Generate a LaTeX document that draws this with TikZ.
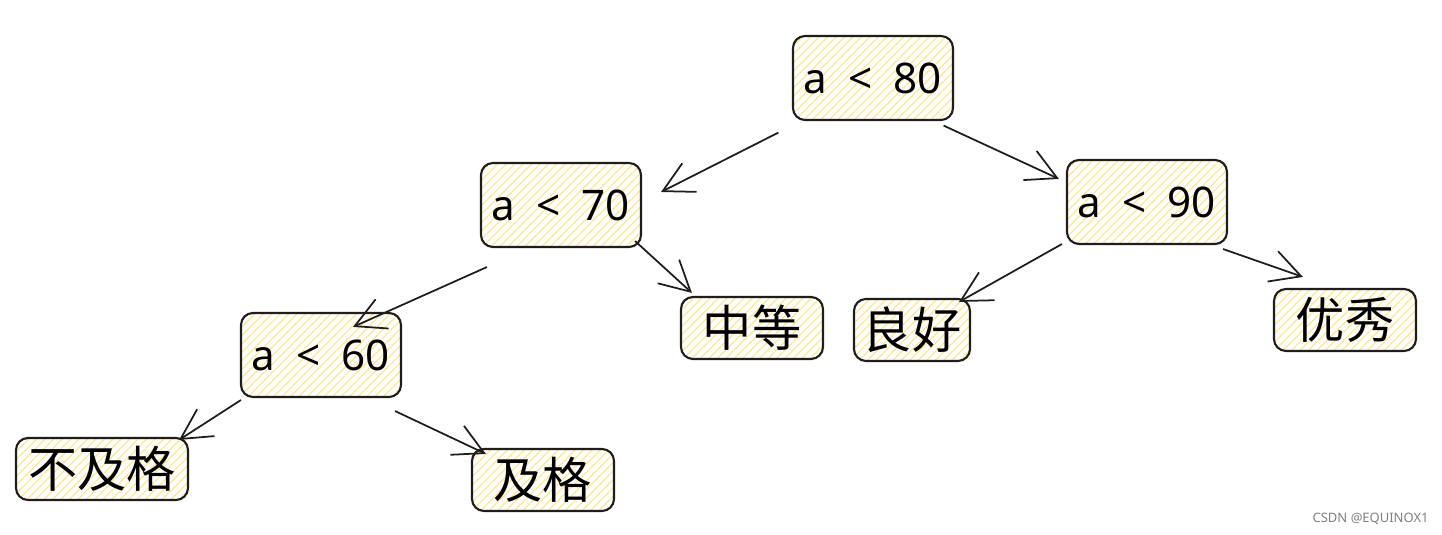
\documentclass[tikz,border=0pt]{standalone}
\usepackage{fontspec}
\setmainfont{Noto Sans}
\newfontfamily\cjk{Noto Sans CJK SC}
\usepackage{tikz}
\usetikzlibrary{arrows.meta,patterns.meta}
\definecolor{hatch}{HTML}{FFE68F}
\definecolor{ink}{HTML}{1E1E1E}
\newcommand\widesp{\fontsize{12}{14}\selectfont\spaceskip=0.5em\relax}

\begin{document}
\begin{tikzpicture}[
  box/.style={draw=ink,line width=0.6pt,rounded corners=0.12cm,pattern={Lines[angle=45,distance=1.7pt,line width=0.35pt]},pattern color=hatch,inner sep=0pt},
  cond/.style={box,minimum width=1.6cm,minimum height=0.84cm,font=\widesp},
  leaf/.style={box,minimum height=0.62cm,font=\cjk\fontsize{14}{16}\selectfont},
  arr/.style={draw=ink,line width=0.5pt,-{Straight Barb[length=0.3cm,width=0.32cm]}}]
\useasboundingbox (0,0) rectangle (14.42,5.35);
\node[cond] (a80) at (8.73,4.57) {a < 80};
\node[cond] (a70) at (5.61,3.30) {a < 70};
\node[cond] (a90) at (11.47,3.33) {a < 90};
\node[cond] (a60) at (3.21,1.80) {a < 60};
\node[leaf,minimum width=1.42cm] (zd) at (7.52,2.07) {中等};
\node[leaf,minimum width=1.16cm] (lh) at (9.12,2.05) {良好};
\node[leaf,minimum width=1.42cm] (yx) at (13.45,2.15) {优秀};
\node[leaf,minimum width=1.72cm] (bjg) at (1.02,0.66) {不及格};
\node[leaf,minimum width=1.42cm] (jg) at (5.43,0.55) {及格};
\draw[arr] ([shift={(-0.14,-0.12)}]a80.south west) -- ([shift={(0.19,0.13)}]a70.east);
\draw[arr] ([shift={(-0.10,-0.05)}]a80.south east) -- ([shift={(-0.07,-0.20)}]a90.north west);
\draw[arr] ([shift={(0.07,-0.19)}]a70.south west) -- ([shift={(-0.49,-0.15)}]a60.north east);
\draw[arr] ([shift={(-0.07,0.07)}]a70.south east) -- ([shift={(0.12,0.03)}]zd.north west);
\draw[arr] ([shift={(-0.04,0.01)}]a90.south west) -- ([shift={(-0.12,-0.04)}]lh.north east);
\draw[arr] ([shift={(-0.05,-0.04)}]a90.south east) -- ([shift={(0.30,0.11)}]yx.north west);
\draw[arr] ([shift={(0.01,-0.02)}]a60.south west) -- ([shift={(-0.10,-0.03)}]bjg.north east);
\draw[arr] ([shift={(-0.07,-0.13)}]a60.south east) -- ([shift={(0.15,-0.06)}]jg.north west);
\node[text=gray,font=\fontsize{3.7}{4.5}\selectfont,anchor=east] (wm) at (14.41,0.16) {CSDN @EQUINOX1};
\end{tikzpicture}
\end{document}
